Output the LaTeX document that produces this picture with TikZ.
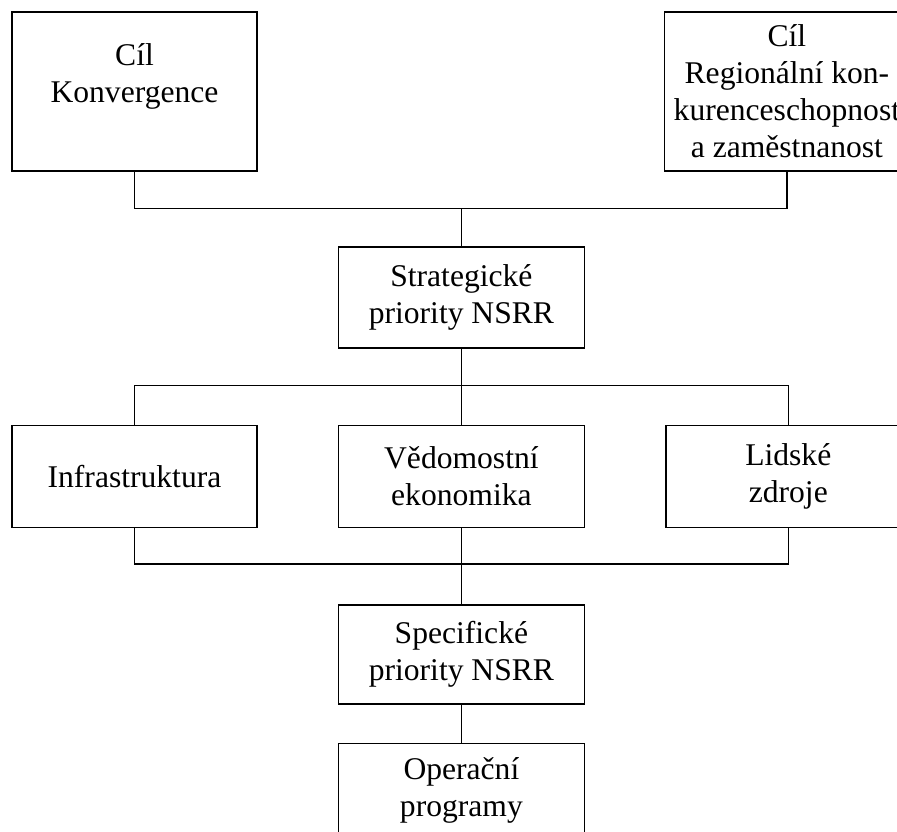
\documentclass[tikz,border=0pt]{standalone}
\usepackage{fontspec}
\setmainfont{Liberation Serif}
\usetikzlibrary{positioning, calc}
\tikzset{
  goalbox/.style={rectangle, draw=black, line width=1.4pt, minimum width=245pt,
    minimum height=159pt, inner sep=0pt, align=center},
  prio/.style={rectangle, draw=black, line width=1.4pt, minimum width=246pt,
    minimum height=101pt, inner sep=0pt, align=center},
  link/.style={line width=1.4pt, black},
}
\begin{document}
\begin{tikzpicture}[font=\fontsize{31.6pt}{37pt}\selectfont]
    \useasboundingbox (0,0) rectangle (897pt,-831pt);
    \clip (0,0) rectangle (897pt,-831pt);

    \node[goalbox] (konv) at (134.5pt,-91.5pt) {Cíl\\Konvergence\\\mbox{}};
    \node[goalbox, right=406pt of konv] (reg) {Cíl\\Regionální kon-\\kurenceschopnost\\a zaměstnanost};

    \node[prio, minimum width=245pt, minimum height=102pt, below=253pt of konv] (infra) {Infrastruktura};
    \node[prio, minimum height=102pt, right=80pt of infra] (vedo) {Vědomostní\\ekonomika};
    \node[prio, minimum width=245pt, minimum height=102pt, right=80pt of vedo] (lidske) {Lidské\\zdroje};

    \node[prio, above=76pt of vedo] (strat) {Strategické\\priority NSRR};
    \node[prio, minimum height=99pt, below=76pt of vedo] (spec) {Specifické\\priority NSRR};
    \node[prio, minimum height=94pt, below=38pt of spec] (oper) {Operační\\programy};

    \coordinate (topbus) at ($(strat.north)+(0,38pt)$);
    \coordinate (midbus) at ($(strat.south)+(0,-37pt)$);
    \coordinate (lowbus) at ($(vedo.south)+(0,-36pt)$);

    \draw[link] (konv.south) |- (topbus) -| (reg.south);
    \draw[link] (topbus) -- (strat.north);
    \draw[link] (infra.north) |- (midbus) -| (lidske.north);
    \draw[link] (strat.south) -- (vedo.north);
    \draw[link] (infra.south) |- (lowbus) -| (lidske.south);
    \draw[link] (vedo.south) -- (spec.north);
    \draw[link] (spec.south) -- (oper.north);
  \end{tikzpicture}
\end{document}
